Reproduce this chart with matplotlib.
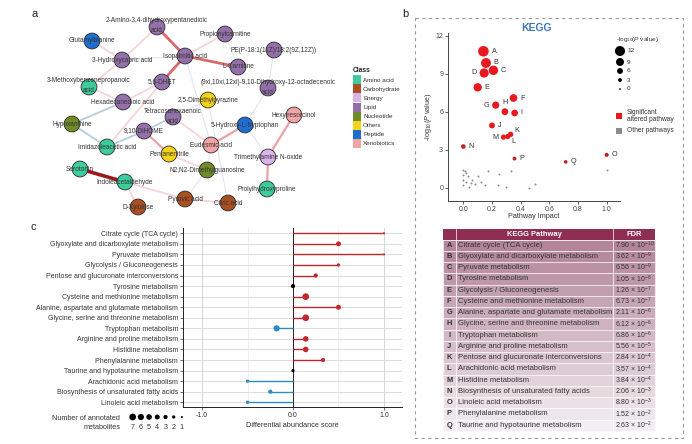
import matplotlib
matplotlib.use('Agg')
import matplotlib.pyplot as plt
from matplotlib.patches import Rectangle
import numpy as np

plt.rcParams['font.family'] = ['Liberation Sans', 'DejaVu Sans']
plt.rcParams['mathtext.fontset'] = 'custom'
plt.rcParams['mathtext.rm'] = 'Liberation Sans'
plt.rcParams['mathtext.it'] = 'Liberation Sans:italic'
plt.rcParams['mathtext.bf'] = 'Liberation Sans:bold'

W, H = 692, 444

# ── panel a: metabolite network ───────────────────────────────────────────────
class_names = ['Amino acid', 'Carbohydrate', 'Energy', 'Lipid', 'Nucleotide',
               'Others', 'Peptide', 'Xenobiotics']
class_colors = ['#3fcc9c', '#a94f22', '#dcb4ea', '#9470ab', '#6f8c27',
                '#f5d31a', '#1e6fcf', '#f3a5a5']

node_names = [
    '2-Amino-3,4-dihydroxypentanedioic\nacid', 'Propionylcarnitine', 'Glutamylalanine',
    'PE(P-18:1(11Z)/18:2(9Z,12Z))', '3-Hydroxycapric acid', 'Isopalmitic acid',
    'L-Carnitine', '3-Methoxybenzenepropanoic\nacid', '5,6-DHET',
    '(9xi,10xi,12xi)-9,10-Dihydroxy-12-octadecenoic\nacid', '2,5-Dimethylpyrazine',
    'Hexadecanedioic acid', 'Tetracosahexaenoic\nacid', 'Hexylresorcinol',
    'Hypoxanthine', '9,10-DiHOME', '5-Hydroxy-L-tryptophan', 'Imidazoleacetic acid',
    'Eudesmic acid', 'Pentanenitrile', 'Trimethylamine N-oxide',
    'N2,N2-Dimethylguanosine', 'Serotonin', 'Indoleacetaldehyde',
    'Prolylhydroxyproline', 'Pyruvic acid', 'Citric acid', 'D-Xylulose',
]
node_class = [
    'Lipid', 'Lipid', 'Peptide', 'Lipid', 'Lipid', 'Lipid', 'Lipid', 'Amino acid',
    'Lipid', 'Lipid', 'Others', 'Lipid', 'Lipid', 'Xenobiotics', 'Nucleotide',
    'Lipid', 'Peptide', 'Amino acid', 'Xenobiotics', 'Others', 'Energy',
    'Nucleotide', 'Amino acid', 'Amino acid', 'Amino acid', 'Carbohydrate',
    'Carbohydrate', 'Carbohydrate',
]
# edges as (node index, node index, correlation kind)
edges = [
    (0, 5, 'red'), (5, 6, 'red'), (5, 8, 'red'), (22, 23, 'dark'),
    (15, 19, 'pink'), (18, 16, 'pink'), (13, 20, 'pink'), (20, 24, 'pink'),
    (19, 21, 'light'), (23, 25, 'light'), (25, 26, 'light'), (2, 4, 'light'),
    (4, 7, 'light'), (7, 11, 'light'), (0, 4, 'light'), (8, 17, 'light'),
    (1, 5, 'light'), (12, 18, 'light'), (11, 8, 'light'), (23, 27, 'light'),
    (14, 11, 'blue'), (14, 17, 'blue'), (17, 15, 'blue'), (15, 12, 'blue'),
    (5, 18, 'grey'), (16, 20, 'grey'), (9, 16, 'grey'), (3, 9, 'grey'),
    (18, 21, 'grey'), (10, 26, 'grey'), (21, 25, 'grey'), (6, 1, 'grey'),
    (12, 10, 'grey'), (4, 5, 'grey'),
]

# network layout (pixel positions of the drawn layout)
node_xy = [
    (157, 27), (225, 34), (92, 41), (274, 50), (122, 60), (185, 56), (238, 67),
    (89, 87), (162, 82), (268, 88), (208, 100), (123, 102), (173, 117), (294, 115),
    (72, 124), (144, 131), (245, 125), (107, 147), (211, 145), (169, 154),
    (268, 157), (207, 170), (80, 169), (125, 182), (267, 189), (185, 199),
    (228, 203), (138, 207),
]
edge_style = {
    'red': ('#d86a6c', 2.0), 'dark': ('#9b1a1d', 2.6), 'pink': ('#eba2a6', 1.6),
    'light': ('#f5d5d7', 1.3), 'blue': ('#bccfe1', 1.4), 'grey': ('#e4e8ee', 0.9),
}

# ── panel b: KEGG enrichment ──────────────────────────────────────────────────
kegg_letters = list('ABCDEFGHIJKLMNOPQ')
kegg_pathways = [
    'Citrate cycle (TCA cycle)', 'Glyoxylate and dicarboxylate metabolism',
    'Pyruvate metabolism', 'Tyrosine metabolism', 'Glycolysis / Gluconeogenesis',
    'Cysteine and methionine metabolism', 'Alanine, aspartate and glutamate metabolism',
    'Glycine, serine and threonine metabolism', 'Tryptophan metabolism',
    'Arginine and proline metabolism', 'Pentose and glucuronate interconversions',
    'Arachidonic acid metabolism', 'Histidine metabolism',
    'Biosynthesis of unsaturated fatty acids', 'Linoleic acid metabolism',
    'Phenylalanine metabolism', 'Taurine and hypotaurine metabolism',
]
kegg_impact = [0.14, 0.158, 0.21, 0.145, 0.10, 0.35, 0.226, 0.29, 0.358, 0.20,
               0.33, 0.31, 0.28, 0.0, 1.0, 0.357, 0.714]
kegg_logp = [10.76, 9.84, 9.26, 9.05, 7.92, 7.08, 6.52, 6.0, 5.9, 4.92,
             4.22, 4.05, 4.0, 3.26, 2.6, 2.31, 2.05]
kegg_signif = [True] * 13 + [False] * 4
fdr_mant = ['7.90', '3.62', '6.56', '1.05', '1.26', '6.73', '2.11', '6.12', '6.86',
            '5.56', '2.84', '3.57', '3.84', '2.06', '8.80', '1.52', '2.63']
fdr_exp = [-10, -9, -9, -8, -7, -7, -6, -6, -6, -5, -4, -4, -4, -3, -3, -2, -2]
other_impact = [0.0, 0.01, 0.02, 0.0, 0.03, 0.0, 0.02, 0.05, 0.10, 0.12, 0.0, 0.04,
                0.08, 0.17, 0.25, 0.33, 0.24, 0.30, 0.46, 0.50, 1.0, 0.15, 0.06]
other_logp = [1.4, 1.3, 1.2, 1.0, 0.9, 0.6, 0.5, 0.4, 0.9, 0.5, 0.2, 0.1,
              0.3, 1.3, 1.1, 1.3, 0.2, 0.1, 0.0, 0.3, 1.45, 0.2, 0.6]
size_legend_vals = [12, 9, 6, 3, 0]
label_side = ['r', 'r', 'r', 'l', 'r', 'r', 'l', 'u', 'r', 'r', 'ru', 'rd', 'l',
              'r', 'r', 'r', 'r']

# ── panel c: differential abundance ───────────────────────────────────────────
c_pathways = [
    'Citrate cycle (TCA cycle)', 'Glyoxylate and dicarboxylate metabolism',
    'Pyruvate metabolism', 'Glycolysis / Gluconeogenesis',
    'Pentose and glucuronate interconversions', 'Tyrosine metabolism',
    'Cysteine and methionine metabolism', 'Alanine, aspartate and glutamate metabolism',
    'Glycine, serine and threonine metabolism', 'Tryptophan metabolism',
    'Arginine and proline metabolism', 'Histidine metabolism',
    'Phenylalanine metabolism', 'Taurine and hypotaurine metabolism',
    'Arachidonic acid metabolism', 'Biosynthesis of unsaturated fatty acids',
    'Linoleic acid metabolism',
]
c_scores = [1.0, 0.5, 1.0, 0.5, 0.25, 0.0, 0.14, 0.5, 0.14, -0.18, 0.14, 0.14,
            0.33, 0.0, -0.5, -0.25, -0.5]
c_counts = [1, 4, 1, 2, 3, 3, 7, 4, 7, 6, 5, 5, 3, 2, 2, 3, 2]
count_legend = [7, 6, 5, 4, 3, 2, 1]


def count_size(n):
    d_px = np.sqrt(4 + (np.asarray(n) - 1) * 6.83)
    return (d_px * 0.72) ** 2


def logp_diam(v):
    return 2.0 + 0.8 * np.asarray(v)


def logp_size(v):
    return (logp_diam(v) * 0.72) ** 2


def px_axes(x0, y0, x1, y1):
    return fig.add_axes([x0 / W, 1 - y1 / H, (x1 - x0) / W, (y1 - y0) / H])


fig = plt.figure(figsize=(W / 100, H / 100), dpi=100)
ov = fig.add_axes([0, 0, 1, 1])
ov.set_xlim(0, W)
ov.set_ylim(H, 0)
ov.axis('off')

# panel letters
for lab, (x, y) in zip('abc', [(35, 14), (405, 14), (33, 227)]):
    ov.text(x, y, lab, fontsize=8, color='#222', ha='center', va='center')

# network edges and nodes
for i, j, kind in edges:
    col, lw = edge_style[kind]
    ov.plot([node_xy[i][0], node_xy[j][0]], [node_xy[i][1], node_xy[j][1]],
            color=col, lw=lw, solid_capstyle='round', zorder=1)
cmap = dict(zip(class_names, class_colors))
nx = [p[0] for p in node_xy]
ny = [p[1] for p in node_xy]
ov.scatter(nx, ny, s=130, c=[cmap[c] for c in node_class], edgecolors='#2a2a2a',
           linewidths=0.6, zorder=2)
for name, (x, y) in zip(node_names, node_xy):
    yy = y - 1 if '\n' in name else y
    ov.text(x, yy, name, fontsize=4.7, color='#333', ha='center', va='center',
            linespacing=1.6, zorder=3)

# class legend
ov.text(353, 71, 'Class', fontsize=4.8, fontweight='bold', color='#222', va='center')
for k, (cname, col) in enumerate(zip(class_names, class_colors)):
    yy = 80 + k * 9
    ov.add_patch(Rectangle((353, yy - 4.5), 8, 9, color=col, lw=0))
    ov.text(363, yy, cname, fontsize=4.5, color='#333', va='center')

# panel b dashed frame
ov.add_patch(Rectangle((415, 18), 268, 420, fill=False, ec='#9a9a9a', lw=0.8,
                       ls=(0, (3, 3))))
ov.text(536, 28, 'KEGG', fontsize=7.5, fontweight='bold', color='#3b78b8',
        ha='center', va='center')

# ── scatter ──
ax = px_axes(448, 33, 620, 201)
ax.scatter(other_impact, other_logp, s=(2 * 0.72) ** 2, color='#8c8c8c', lw=0)
cols = ['#e8191e' if s else '#c42026' for s in kegg_signif]
ax.scatter(kegg_impact, kegg_logp, s=logp_size(kegg_logp), c=cols, lw=0, zorder=3)
for let, x, y, side in zip(kegg_letters, kegg_impact, kegg_logp, label_side):
    r = logp_diam(y) * 0.72 / 2 + 2
    off = {'r': ((r, 0), 'left', 'center'), 'l': ((-r, 0), 'right', 'center'),
           'u': ((0, r), 'center', 'bottom'), 'ru': ((r - 1, r - 1), 'left', 'center'),
           'rd': ((r - 1, -r), 'left', 'center')}[side]
    ax.annotate(let, (x, y), xytext=off[0], textcoords='offset points',
                ha=off[1], va=off[2], fontsize=5.2, color='#333')
ax.set_xlim(-0.107, 1.093)
ax.set_ylim(-1.03, 12.2)
ax.set_xticks([0, 0.2, 0.4, 0.6, 0.8, 1.0])
ax.set_xticklabels(['0.0', '0.2', '0.4', '0.6', '0.8', '1.0'])
ax.set_yticks([0, 3, 6, 9, 12])
for sp in ['top', 'right']:
    ax.spines[sp].set_visible(False)
for sp in ['left', 'bottom']:
    ax.spines[sp].set_color('#444')
    ax.spines[sp].set_linewidth(0.7)
ax.tick_params(labelsize=5, length=2, width=0.6, pad=1.5, colors='#444')
ax.set_xlabel('Pathway Impact', fontsize=5.2, labelpad=0, color='#333')
ax.set_ylabel(r'-log$_{10}$($\it{P}$ value)', fontsize=5.2, labelpad=1, color='#333')
ax.patch.set_alpha(0)

# size legend (legend circles drawn a bit smaller, as in the original key)
ov.text(616, 39, r'-log$_{10}$($\it{P}$ value)', fontsize=4.6, color='#333', va='center')
leg_y = [51, 62, 71, 80, 89]
ov.scatter([620] * len(size_legend_vals), leg_y, s=logp_size(size_legend_vals) * 0.75,
           color='black', lw=0)
for v, yy in zip(size_legend_vals, leg_y):
    ov.text(627, yy, str(v), fontsize=4.6, color='#333', va='center')
ov.add_patch(Rectangle((616, 113), 6, 6, color='#e8191e', lw=0))
ov.text(627, 116, 'Significant\naltered pathway', fontsize=4.8, color='#333',
        va='center', linespacing=0.95)
ov.add_patch(Rectangle((616, 127.5), 6, 6, color='#8c8c8c', lw=0))
ov.text(627, 130.5, 'Other pathways', fontsize=4.8, color='#333', va='center')

# ── table ──
tx0, tx1, tx2, tx3 = 443, 455.5, 612.5, 655
row_h = 11.25
top = 239.5
ov.add_patch(Rectangle((tx0, 229), tx3 - tx0, top - 229, color='#8e2e52', lw=0))
ov.plot([tx1, tx1], [229, top], color='white', lw=0.5)
ov.plot([tx2, tx2], [229, top], color='white', lw=0.5)
ov.text((tx1 + tx2) / 2, 234.3, 'KEGG Pathway', fontsize=5.4, color='white',
        fontweight='bold', ha='center', va='center')
ov.text((tx2 + tx3) / 2, 234.3, 'FDR', fontsize=5.4, color='white',
        fontweight='bold', ha='center', va='center')
c_top = np.array([0.70, 0.52, 0.60])
c_bot = np.array([0.95, 0.93, 0.94])
for i, (let, name, m, e) in enumerate(zip(kegg_letters, kegg_pathways, fdr_mant, fdr_exp)):
    y0 = top + i * row_h
    col = c_top + (c_bot - c_top) * i / (len(kegg_letters) - 1)
    for xa, xb in [(tx0, tx1), (tx1, tx2), (tx2, tx3)]:
        ov.add_patch(Rectangle((xa, y0), xb - xa, row_h, fc=col, ec='white', lw=0.4))
    yc = y0 + row_h / 2
    ov.text((tx0 + tx1) / 2, yc, let, fontsize=5.4, fontweight='bold', color='#333',
            ha='center', va='center')
    ov.text(tx1 + 3, yc, name, fontsize=5.5, color='#333', va='center')
    ov.text(tx2 + 2.5, yc, m + r' $\times$ 10$^{' + str(e) + '}$', fontsize=5.0,
            color='#333', va='center')

# ── panel c lollipop ──
axc = px_axes(183, 228, 402, 407)
ypos = np.arange(len(c_pathways), 0, -1)
ccols = ['#c1272d' if v > 0 else ('#2b8cc4' if v < 0 else 'black') for v in c_scores]
for yy in ypos:
    axc.axhline(yy, color='#d6d6d6', lw=0.6, zorder=0)
for xv, lw, col in [(-1, 0.6, '#cfcfcf'), (-0.5, 0.4, '#e2e2e2'), (0.5, 0.4, '#e2e2e2'),
                    (1, 0.6, '#cfcfcf')]:
    axc.axvline(xv, color=col, lw=lw, zorder=0)
axc.hlines(ypos, 0, c_scores, colors=ccols, lw=1.0, zorder=2)
axc.axvline(0, color='#222', lw=0.7, zorder=1)
axc.scatter(c_scores, ypos, s=count_size(c_counts), c=ccols, lw=0, zorder=3)
axc.set_xlim(-1.209, 1.198)
axc.set_ylim(0.55, 17.5)
axc.set_yticks(ypos)
axc.set_yticklabels(c_pathways)
axc.set_xticks([-1, 0, 1])
axc.set_xticklabels(['-1.0', '0.0', '1.0'])
for sp in ['top', 'right']:
    axc.spines[sp].set_visible(False)
for sp in ['left', 'bottom']:
    axc.spines[sp].set_color('#222')
    axc.spines[sp].set_linewidth(0.7)
axc.tick_params(labelsize=5, length=2, width=0.5, pad=1.5, colors='#333')
axc.set_xlabel('Differential abundance score', fontsize=5.3, labelpad=2, color='#333')
axc.patch.set_alpha(0)

# count legend
ov.text(120, 418, 'Number of annotated', fontsize=5.2, color='#333', ha='right', va='center')
ov.text(120, 427, 'metabolites', fontsize=5.2, color='#333', ha='right', va='center')
lx = [132.7 + k * 8.2 for k in range(len(count_legend))]
ov.scatter(lx, [417] * len(count_legend), s=count_size(count_legend), color='black', lw=0)
for n, x in zip(count_legend, lx):
    ov.text(x, 427, str(n), fontsize=5.2, color='#333', ha='center', va='center')

fig.savefig('out.png', dpi=100)
